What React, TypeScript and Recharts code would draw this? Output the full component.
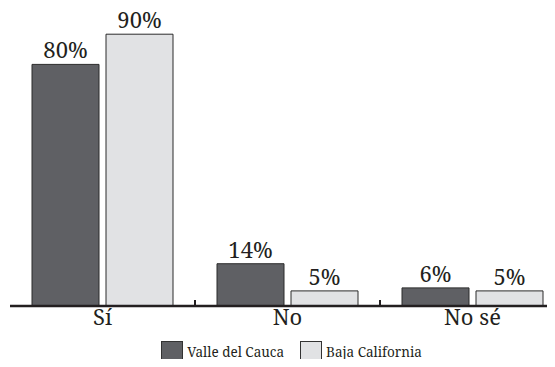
import { BarChart, Bar, XAxis, YAxis, LabelList, Legend, ReferenceLine } from "recharts";

const categories = ["Sí", "No", "No sé"];
const valleDelCauca = [80, 14, 6];
const bajaCalifornia = [90, 5, 5];
const seriesNames = ["Valle del Cauca", "Baja California"];
// small upward ticks sit at the start of these categories
const tickedCategories = ["No", "No sé"];

const data = categories.map((c, i) => ({
  name: c,
  valle: valleDelCauca[i],
  baja: bajaCalifornia[i],
}));

const font = "Noto Serif, serif";
const ink = "#231f20";
const darkFill = "#5f6064";
const lightFill = "#e1e2e4";

function LegendBox() {
  const items = [
    { label: seriesNames[0], fill: darkFill },
    { label: seriesNames[1], fill: lightFill },
  ];
  return (
    <div
      style={{
        display: "flex",
        justifyContent: "center",
        alignItems: "center",
        height: 24,
        lineHeight: "20px",
        paddingLeft: 8,
        fontFamily: font,
        fontSize: 13.5,
        color: ink,
      }}
    >
      {items.map((it, i) => (
        <div key={it.label} style={{ display: "flex", alignItems: "center", marginRight: i === 0 ? 16 : 0 }}>
          <span
            style={{
              display: "inline-block",
              width: 20,
              height: 20,
              background: it.fill,
              border: "1px solid #333",
              marginRight: 4,
            }}
          />
          <span>{it.label}</span>
        </div>
      ))}
    </div>
  );
}

export default function App() {
  return (
    <div style={{ margin: -8, width: 555, height: 367, overflow: "hidden", background: "#fff", fontFamily: font }}>
      <BarChart
        width={565}
        height={367}
        data={data}
        margin={{ top: 4, right: 0, bottom: 0, left: 10 }}
        barCategoryGap={22}
        barGap={7}
      >
        <XAxis
          dataKey="name"
          tickLine={false}
          tickSize={0}
          tickMargin={3}
          height={37}
          axisLine={{ stroke: ink, strokeWidth: 2.5 }}
          tick={{ fill: ink, fontSize: 22, fontFamily: font }}
          interval={0}
        />
        <YAxis hide domain={[0, 100]} />
        {tickedCategories.map((c) => (
          <ReferenceLine
            key={c}
            position="start"
            segment={[
              { x: c, y: 0 },
              { x: c, y: 2 },
            ]}
            stroke={ink}
            strokeWidth={2}
            ifOverflow="visible"
          />
        ))}
        <Legend verticalAlign="bottom" content={<LegendBox />} wrapperStyle={{ bottom: 3 }} />
        <Bar dataKey="valle" fill={darkFill} stroke="#2b2b2b" strokeWidth={1} isAnimationActive={false}>
          <LabelList dataKey="valle" position="top" offset={6} formatter={(v: any) => `${v}%`} style={{ fill: ink, fontSize: 22, fontFamily: font }} />
        </Bar>
        <Bar dataKey="baja" fill={lightFill} stroke="#2b2b2b" strokeWidth={1} isAnimationActive={false}>
          <LabelList dataKey="baja" position="top" offset={6} formatter={(v: any) => `${v}%`} style={{ fill: ink, fontSize: 22, fontFamily: font }} />
        </Bar>
      </BarChart>
    </div>
  );
}
